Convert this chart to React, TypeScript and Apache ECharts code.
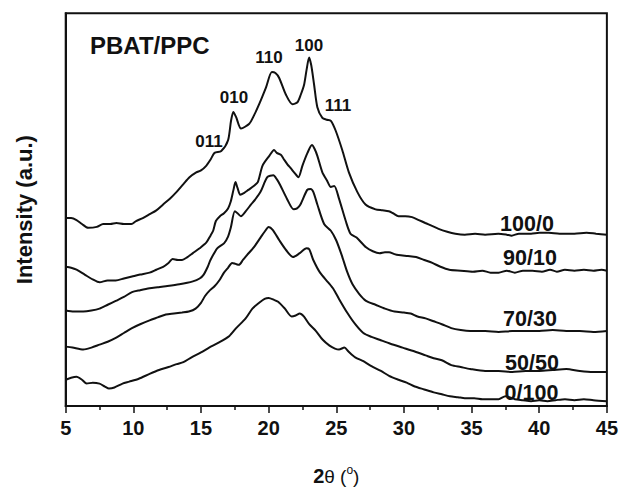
import React, { useEffect, useRef } from "react";
import * as echarts from "echarts";

// 2θ (deg), intensity (a.u.)
const s100_0: number[][] = [[5.0,193],[5.4,193],[5.8,191],[6.2,187],[6.66,183],[7.3,184],[7.77,187],[8.3,187],[8.75,188],[9.3,187],[9.86,187],[10.2,190],[10.7,193],[11.2,197],[11.7,201],[12.2,207],[12.7,213],[13.2,220],[13.7,228],[14.15,235],[14.65,240],[15.0,242],[15.4,247],[15.7,253],[16.0,260],[16.5,262],[17.0,273],[17.22,293],[17.39,302],[17.59,297],[17.96,285],[18.57,290],[18.9,298],[19.3,310],[19.8,327],[20.24,343],[20.5,342],[20.78,337],[21.27,320],[21.76,310],[22.13,312],[22.38,320],[22.62,330],[22.8,345],[22.99,358],[23.15,350],[23.36,330],[23.6,307],[23.97,296],[24.3,294],[24.6,293],[24.95,283],[25.44,263],[25.93,240],[26.55,220],[27.16,207],[27.9,202],[28.4,201],[28.88,200],[29.2,198],[29.6,195],[30.1,195],[30.6,194],[31.1,191],[31.58,188],[32.56,182],[33.2,179],[33.8,177],[34.5,176],[35.26,177],[36.0,176],[36.98,177],[37.6,176],[37.96,175],[38.5,177],[39.4,177],[40.0,178],[40.7,178],[41.5,177],[42.6,177],[43.5,178],[44.2,177],[45,176]];
const s90_10: number[][] = [[5.0,143],[5.4,142],[5.8,140],[6.4,135],[7.0,130],[7.5,127],[8.1,129],[8.7,129],[9.3,131],[9.9,133],[10.5,135],[11.2,137],[11.7,140],[12.2,143],[12.6,147],[12.9,151],[13.3,150],[13.6,150],[14.0,153],[14.4,157],[14.9,162],[15.4,168],[15.7,175],[15.9,180],[16.1,190],[16.4,195],[16.7,198],[17.0,203],[17.2,210],[17.4,222],[17.55,230],[17.7,224],[17.9,217],[18.2,219],[18.5,222],[18.9,226],[19.2,230],[19.55,247],[20.05,257],[20.4,263],[20.6,260],[20.9,258],[21.1,254],[21.4,248],[21.65,244],[21.88,240],[22.2,235],[22.5,247],[22.87,260],[23.2,268],[23.4,264],[23.6,257],[23.97,240],[24.3,232],[24.6,225],[24.85,226],[25.2,213],[25.7,190],[26.05,177],[26.5,173],[27.2,163],[27.7,159],[28.2,157],[28.6,158],[28.9,158],[29.3,156],[29.6,155],[30.3,154],[30.9,153],[31.5,150],[32.1,147],[32.7,143],[33.35,140],[34.2,139],[35.1,138],[35.8,139],[36.4,137],[37.0,137],[37.6,139],[38.2,137],[38.8,139],[39.5,139],[40.2,138],[40.8,140],[41.3,138],[41.9,140],[42.6,139],[43.3,140],[44.0,139],[44.6,140],[45,139]];
const s70_30: number[][] = [[5.0,98],[5.6,97],[6.3,97],[6.9,98],[7.5,100],[8.1,104],[8.7,108],[9.3,112],[9.9,117],[10.5,119],[11.2,121],[11.8,122],[12.4,123],[13.4,125],[14.4,128],[14.9,131],[15.2,135],[15.5,143],[15.7,150],[16.2,162],[16.7,167],[17.0,174],[17.2,183],[17.5,200],[17.7,198],[17.95,195],[18.3,200],[18.7,207],[19.0,212],[19.4,220],[19.9,235],[20.35,237],[20.6,233],[20.85,227],[21.35,213],[21.85,202],[22.1,203],[22.35,207],[22.85,222],[23.1,223],[23.3,220],[23.6,207],[24.1,187],[24.6,180],[25.0,170],[25.4,155],[25.8,138],[26.2,125],[26.7,115],[27.2,108],[27.9,104],[28.6,100],[29.3,97],[30.0,96],[30.5,95],[31.0,92],[31.6,90],[32.2,87],[32.8,84],[33.5,80],[34.2,78],[34.9,77],[36.0,77],[37.0,76],[38.0,77],[39.0,77],[40.0,77],[41.0,78],[42.0,77],[43.0,77],[44.0,76],[45,77]];
const s50_50: number[][] = [[5.0,61],[5.5,60],[6.3,58],[6.9,60],[7.5,63],[8.1,66],[8.7,70],[9.3,75],[9.9,80],[10.5,84],[11.2,88],[11.8,91],[12.4,94],[13.0,95],[13.6,96],[14.1,97],[14.6,100],[15.0,106],[15.3,113],[15.6,118],[16.0,123],[16.4,130],[16.7,137],[17.0,142],[17.3,147],[17.55,146],[17.8,145],[18.1,150],[18.4,155],[18.9,163],[19.4,173],[19.7,179],[20.0,184],[20.3,181],[20.8,170],[21.3,160],[21.8,153],[22.3,157],[22.8,162],[23.0,161],[23.3,150],[23.8,137],[24.4,127],[24.8,120],[25.2,110],[25.8,96],[26.4,84],[27.0,75],[27.6,71],[28.2,68],[29.0,64],[29.9,60],[30.8,56],[31.6,52],[32.2,49],[32.8,47],[33.5,42],[34.2,40],[34.9,38],[36.0,36],[37.0,36],[38.0,35],[39.0,36],[40.0,36],[41.0,37],[42.0,38],[43.0,36],[44.0,35],[45,35]];
const s0_100: number[][] = [[5.0,27],[5.4,29],[5.8,30],[6.2,27],[6.55,23],[7.0,24],[7.5,23],[7.9,20],[8.2,18],[8.6,19],[9.2,23],[9.7,25],[10.4,28],[11.2,33],[11.9,37],[12.6,40],[13.2,43],[13.7,45],[14.3,50],[15.0,55],[15.6,60],[16.3,65],[17.1,72],[17.6,80],[18.3,90],[18.8,100],[19.3,106],[19.7,110],[20.0,111],[20.4,109],[20.7,107],[21.2,100],[21.7,92],[22.0,93],[22.3,95],[22.6,92],[23.0,84],[23.5,77],[24.0,68],[24.5,62],[24.9,59],[25.2,58],[25.6,60],[25.9,56],[26.4,50],[27.0,46],[27.6,41],[28.3,36],[28.9,31],[29.6,27],[30.2,24],[30.8,20],[31.5,17],[32.2,14],[32.8,12],[33.4,10],[34.0,9],[34.5,8],[35.2,8],[35.8,7],[36.4,7],[37.0,7],[37.5,10],[38.2,7],[38.8,6],[39.4,5],[40.0,6],[40.6,5],[41.2,6],[41.9,7],[42.6,6],[43.3,7],[44.0,6],[45,5]];

const sampleNames = ["100/0", "90/10", "70/30", "50/50", "0/100"];
const peakLabels = ["011", "010", "110", "100", "111"];

const FONT = "'Liberation Sans', Arial, Helvetica, sans-serif";

export default function App() {
  const ref = useRef<HTMLDivElement>(null);
  useEffect(() => {
    if (!ref.current) return;
    const chart = echarts.init(ref.current, null, { renderer: "svg" });
    const allSeries = [s100_0, s90_10, s70_30, s50_50, s0_100];
    const peakPos = [[209, 141], [234, 97.5], [269, 57], [309, 45], [338, 105]];
    const samplePos = [[527, 224], [530, 257.5], [530, 319], [532, 362.5], [531.5, 392.5]];
    chart.setOption({
      animation: false,
      backgroundColor: "#fff",
      grid: {
        left: 65.7, right: 12.5, top: 13.3, bottom: 74.3,
        show: true, borderColor: "#111", borderWidth: 2, backgroundColor: "transparent",
      },
      xAxis: {
        type: "value", min: 5, max: 45, interval: 5,
        axisLine: { show: true, lineStyle: { color: "#111", width: 2 } },
        axisTick: { show: true, length: 7, inside: false, lineStyle: { color: "#111", width: 1.5 } },
        minorTick: { show: true, splitNumber: 2, length: 4, lineStyle: { color: "#111", width: 1.5 } },
        splitLine: { show: false },
        axisLabel: { color: "#111", fontSize: 20, fontWeight: "bold", fontFamily: FONT, margin: 12 },
        name: "{b|2}{n|θ (}{s|o}{n|)}",
        nameLocation: "middle",
        nameGap: 58,
        nameTextStyle: {
          fontSize: 19,
          rich: {
            b: { fontSize: 20, fontWeight: "bold", fontFamily: FONT, color: "#111", lineHeight: 24 },
            n: { fontSize: 19, fontFamily: FONT, color: "#111", lineHeight: 24 },
            s: { fontSize: 12, fontFamily: FONT, color: "#111", verticalAlign: "top", lineHeight: 12 },
          },
        },
      },
      yAxis: {
        type: "value", min: 0, max: 403.4,
        axisLine: { show: true, lineStyle: { color: "#111", width: 2 } },
        axisTick: { show: false },
        axisLabel: { show: false },
        splitLine: { show: false },
        name: "Intensity (a.u.)",
        nameLocation: "middle",
        nameGap: 30,
        nameTextStyle: { fontSize: 22, fontWeight: "bold", fontFamily: FONT, color: "#111" },
      },
      series: allSeries.map((d, i) => ({
        type: "line",
        name: sampleNames[i],
        data: d,
        showSymbol: false,
        smooth: 0.25,
        lineStyle: { color: "#111", width: 2 },
      })),
      graphic: [
        {
          type: "text", left: 90, top: 33,
          style: { text: "PBAT/PPC", fontSize: 24, fontWeight: "bold", fontFamily: FONT, fill: "#111" },
        },
        ...peakLabels.map((t, i) => ({
          type: "text", x: peakPos[i][0], y: peakPos[i][1],
          style: { text: t, fontSize: 17, fontWeight: "bold", fontFamily: FONT, fill: "#111", align: "center", verticalAlign: "middle" },
        })),
        ...sampleNames.map((t, i) => ({
          type: "text", x: samplePos[i][0], y: samplePos[i][1],
          style: { text: t, fontSize: 21.5, fontWeight: "bold", fontFamily: FONT, fill: "#111", align: "center", verticalAlign: "middle" },
        })),
      ],
    });
    return () => chart.dispose();
  }, []);
  return <div ref={ref} style={{ position: "fixed", left: 0, top: 0, width: 621, height: 491 }} />;
}
